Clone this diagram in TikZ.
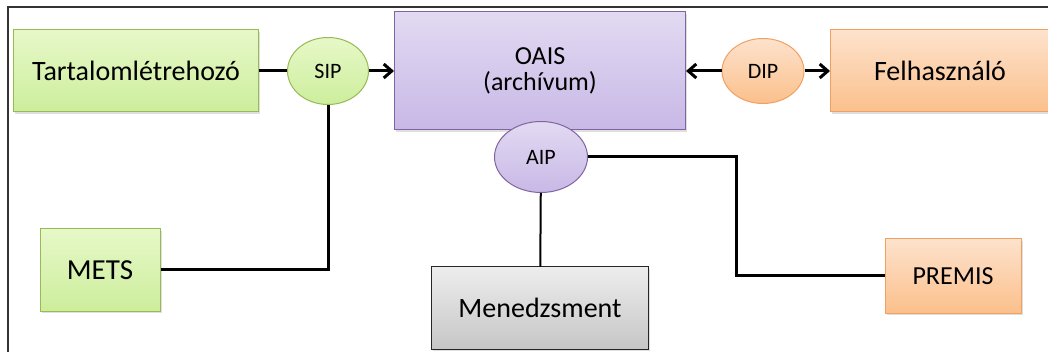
\documentclass[tikz,border=0pt]{standalone}
\usepackage{fontspec}
\setmainfont{Carlito}
\usetikzlibrary{shapes.geometric,arrows.meta,shadows}

\definecolor{greenline}{HTML}{98B954}
\definecolor{greentop}{HTML}{E6F8C8}
\definecolor{greenbot}{HTML}{CDEE9C}
\definecolor{purpleline}{HTML}{8064A2}
\definecolor{purpletop}{HTML}{E2DAF2}
\definecolor{purplebot}{HTML}{C8B8E6}
\definecolor{orangeline}{HTML}{F0A060}
\definecolor{orangetop}{HTML}{FDE2CC}
\definecolor{orangebot}{HTML}{FBC08C}
\definecolor{graytop}{HTML}{EDEDED}
\definecolor{graybot}{HTML}{C6C6C6}

\tikzset{
  greenfill/.style={draw=greenline,top color=greentop,bottom color=greenbot},
  purplefill/.style={draw=purpleline,top color=purpletop,bottom color=purplebot},
  orangefill/.style={draw=orangeline,top color=orangetop,bottom color=orangebot},
  grayfill/.style={draw=black!85,top color=graytop,bottom color=graybot},
  conn/.style={line width=3pt,black},
}

\begin{document}
\begin{tikzpicture}[x=1pt,y=-1pt,>={Straight Barb[length=8pt,width=14pt]}]

      \useasboundingbox (0,0) rectangle (1048,352);
      \draw[line width=2pt,black!80] (8,352) |- (1048,7);

      \begin{scope}[every node/.style={rectangle,line width=1pt,inner sep=0pt,align=center,
          font=\fontsize{28}{25}\selectfont,
          drop shadow={opacity=0.25,shadow xshift=1.5pt,shadow yshift=-2pt}}]
        \node[greenfill,minimum width=245pt,minimum height=82pt] (tart) at (136,71) {Tartalomlétrehozó};
        \node[greenfill,minimum width=120pt,minimum height=82pt,font=\fontsize{29}{30}\selectfont] (mets) at (100,270) {METS};
        \node[purplefill,minimum width=291pt,minimum height=118pt,font=\fontsize{26}{26}\selectfont] (oais) at (540,71) {OAIS\\(archívum)};
        \node[orangefill,minimum width=219pt,minimum height=82pt] (felh) at (940,71) {Felhasználó};
        \node[orangefill,minimum width=136pt,minimum height=74pt,font=\fontsize{26}{28}\selectfont] (premis) at (953,276) {PREMIS};
        \node[grayfill,minimum width=217pt,minimum height=82pt] (menedzs) at (540,308) {Menedzsment};
      \end{scope}

      \begin{scope}[every node/.style={ellipse,line width=1pt,inner sep=0pt,
          font=\fontsize{22}{24}\selectfont}]
        \node[greenfill,minimum width=81pt,minimum height=67pt] (sip) at (328,71) {SIP};
        \node[purplefill,minimum width=93pt,minimum height=71pt] (aip) at (541,157) {AIP};
        \node[orangefill,minimum width=82pt,minimum height=65pt] (dip) at (763,71) {DIP};
      \end{scope}

      \coordinate (bend) at (736,157);

      \begin{scope}[every edge/.style={draw,conn}]
        \path (tart) edge (sip);
        \path (sip)  edge[->] (oais);
        \path (dip)  edge[->] (oais);
        \path (dip)  edge[->] (felh);
      \end{scope}

      \draw[conn] (mets.east) -| (sip.south);
      \draw[conn] (aip.east) -- (bend) |- (premis.west);
      \draw[line width=2pt] (aip) -- (menedzs);

    \end{tikzpicture}
\end{document}
